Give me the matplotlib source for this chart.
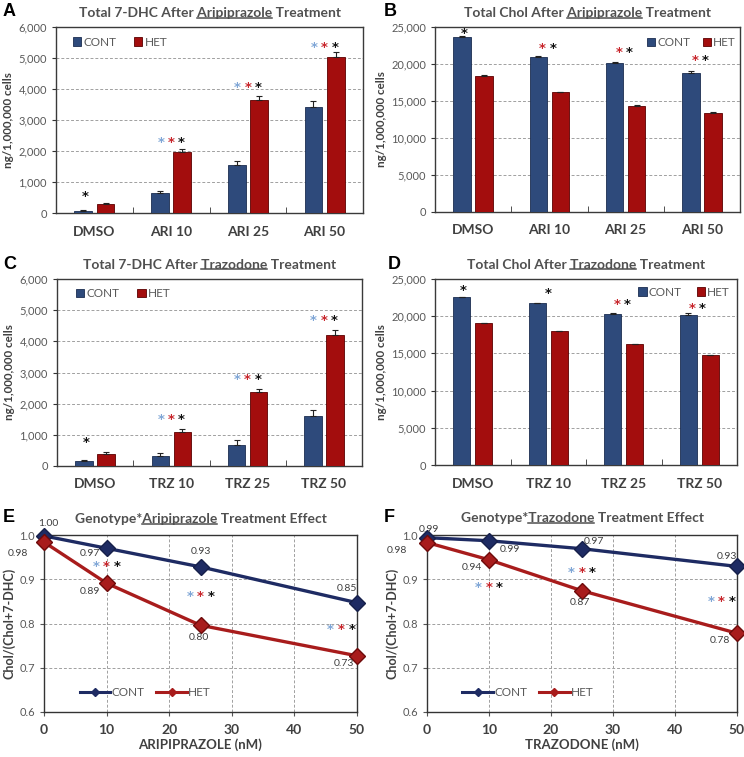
import matplotlib
matplotlib.use("Agg")
import matplotlib.pyplot as plt
import numpy as np
from matplotlib.lines import Line2D

# ---- data ----
groups_ari = ["DMSO", "ARI 10", "ARI 25", "ARI 50"]
groups_trz = ["DMSO", "TRZ 10", "TRZ 25", "TRZ 50"]

dhc_ari_cont = [75, 640, 1550, 3410]
dhc_ari_cont_err = [15, 60, 140, 210]
dhc_ari_het = [275, 1960, 3660, 5030]
dhc_ari_het_err = [50, 100, 110, 150]

chol_ari_cont = [23700, 21000, 20180, 18830]
chol_ari_cont_err = [150, 80, 100, 200]
chol_ari_het = [18380, 16170, 14370, 13420]
chol_ari_het_err = [100, 80, 80, 100]

dhc_trz_cont = [170, 330, 680, 1590]
dhc_trz_cont_err = [20, 90, 160, 200]
dhc_trz_het = [390, 1075, 2380, 4200]
dhc_trz_het_err = [60, 100, 100, 170]

chol_trz_cont = [22520, 21710, 20320, 20140]
chol_trz_cont_err = [80, 80, 80, 250]
chol_trz_het = [19050, 17970, 16220, 14770]
chol_trz_het_err = [60, 80, 80, 80]

# significance stars: colour codes per group and height
stars_a = ["k", "brk", "brk", "brk"]
stars_a_y = [600, 2340, 4120, 5390]
stars_b = ["k", "rk", "rk", "rk"]
stars_b_y = [24400, 22300, 21800, 20700]
stars_c = ["k", "brk", "brk", "brk"]
stars_c_y = [820, 1560, 2840, 4730]
stars_d = ["k", "k", "rk", "rk"]
stars_d_y = [23780, 23290, 21850, 21260]

dose = [0, 10, 25, 50]
ratio_ari_cont = [0.998, 0.970, 0.928, 0.847]
ratio_ari_het = [0.984, 0.891, 0.796, 0.727]
ratio_trz_cont = [0.994, 0.987, 0.969, 0.929]
ratio_trz_het = [0.983, 0.944, 0.874, 0.778]

star_dose = [10, 25, 47.5]
stars_e_y = [0.934, 0.865, 0.791]
stars_f_y = [0.886, 0.920, 0.855]

# ---- style ----
W, H = 744, 757
C_BAR = "#2E4A7B"
H_BAR = "#A30D0D"
C_LINE = "#1E2B63"
H_LINE = "#A81C1C"
STAR = {"b": "#7FA6D6", "r": "#C8262C", "k": "#111111"}
GRAY = "#595959"
FONT = "Lato"

fig = plt.figure(figsize=(W / 100, H / 100), dpi=100)
renderer = fig.canvas.get_renderer()


def px_axes(left, top, right, bottom):
    return fig.add_axes([left / W, 1 - bottom / H, (right - left) / W, (bottom - top) / H])


def title(ax, pre, mid, post, y_px):
    kw = dict(fontsize=10, fontweight="bold", color="#505050", family=FONT)

    def width(s):
        t = fig.text(0, 0, s, **kw)
        w = t.get_window_extent(renderer).width
        t.remove()
        return w

    full = width(pre + mid + post)
    pm = width(pre + mid)
    m = width(mid)
    box = ax.get_position()
    cx = (box.x0 + box.x1) / 2 * W
    x0 = cx - full / 2
    t = fig.text(x0 / W, 1 - y_px / H, pre + mid + post, ha="left", va="center", **kw)
    bb = t.get_window_extent(renderer)
    uy = (bb.y0 + 1.5) / H
    fig.add_artist(Line2D([(x0 + pm - m) / W, (x0 + pm) / W], [uy, uy],
                          transform=fig.transFigure, color="#505050", lw=1.1))


def letter(s, x_px, y_px):
    fig.text(x_px / W, 1 - y_px / H, s, fontsize=13, fontweight="bold",
             family="Liberation Sans", ha="left", va="center")


def star(ax, x, y, c):
    ax.annotate("*", (x, y), xytext=(0, -2), textcoords="offset pixels",
                color=STAR[c], fontsize=9.5, fontweight="bold",
                ha="center", va="center", family="DejaVu Sans", annotation_clip=False)


def bar_panel(ax, groups, cont, cont_err, het, het_err, ymax, ystep,
              sets, sets_y, leg_loc, leg_anchor, leg_space):
    x = np.arange(len(groups))
    w = 0.23
    ax.bar(x - 0.145, cont, w, color=C_BAR, edgecolor="#1B2D50", lw=0.6,
           yerr=[np.zeros(len(cont)), cont_err], capsize=2,
           error_kw=dict(lw=0.8, capthick=0.8, ecolor="#222222"), label="CONT", zorder=3)
    ax.bar(x + 0.145, het, w, color=H_BAR, edgecolor="#5A0000", lw=0.6,
           yerr=[np.zeros(len(het)), het_err], capsize=2,
           error_kw=dict(lw=0.8, capthick=0.8, ecolor="#222222"), label="HET", zorder=3)
    ax.set_xlim(-0.5, len(groups) - 0.5)
    ax.set_ylim(0, ymax)
    ax.set_yticks(np.arange(0, ymax + 1, ystep))
    ax.set_yticklabels([f"{v:,}" for v in np.arange(0, ymax + 1, ystep)])
    ax.set_xticks(x)
    ax.set_xticklabels(groups, fontweight="bold", fontsize=10, color="#404040", family=FONT)
    ax.set_xticks(np.arange(0.5, len(groups) - 1, 1), minor=True)
    ax.tick_params(axis="x", which="major", length=0, pad=9)
    ax.tick_params(axis="x", which="minor", length=4, direction="in", color="#333333")
    ax.tick_params(axis="y", length=3, color="#333333", labelsize=8, labelcolor=GRAY)
    for lab in ax.get_yticklabels():
        lab.set_family(FONT)
    ax.yaxis.grid(True, ls=(0, (3, 2)), color="#A0A0A0", lw=0.7)
    ax.set_axisbelow(True)
    for sp in ax.spines.values():
        sp.set_color("#3A3A3A")
        sp.set_linewidth(1.0)
    ax.set_ylabel("ng/1,000,000 cells", fontsize=8.4, fontweight="bold",
                  color="#404040", family=FONT, labelpad=3)
    for i, (s, yv) in enumerate(zip(sets, sets_y)):
        if len(s) == 3:
            offs = [-0.135, 0.0, 0.135]
        elif len(s) == 2:
            offs = [-0.09, 0.045]
        elif i == 0:
            offs = [-0.12]
        else:
            offs = [0.0]
        for c, o in zip(s, offs):
            star(ax, x[i] + o, yv, c)
    ax.legend(loc=leg_loc, bbox_to_anchor=leg_anchor, ncol=2, frameon=False,
              handlelength=0.7, handleheight=0.7, handletextpad=0.2,
              borderpad=0, borderaxespad=0, columnspacing=leg_space,
              labelcolor=GRAY, prop=dict(family=FONT, size=8.5))


def line_panel(ax, cont, het, sy, xlabel, label_offs_c, label_offs_h):
    ax.plot(dose, cont, color=C_LINE, lw=2.4, marker="D", ms=8,
            mec="#16204A", clip_on=False, zorder=4)
    ax.plot(dose, het, color=H_LINE, lw=2.4, marker="D", ms=8,
            mec="#6E0B0B", clip_on=False, zorder=4)
    ax.set_xlim(0, 50)
    ax.set_ylim(0.6, 1.0)
    ax.set_xticks(np.arange(0, 51, 10))
    ax.set_yticks(np.arange(0.6, 1.01, 0.1))
    ax.set_yticklabels([f"{v:.1f}" for v in np.arange(0.6, 1.01, 0.1)])
    ax.tick_params(axis="y", length=3, labelsize=8, labelcolor=GRAY, color="#555555")
    ax.tick_params(axis="x", length=3, labelsize=10, labelcolor="#404040",
                   color="#555555", pad=6)
    for lab in ax.get_xticklabels():
        lab.set_fontweight("bold")
        lab.set_family(FONT)
    for lab in ax.get_yticklabels():
        lab.set_family(FONT)
    ax.grid(True, ls=(0, (3, 2)), color="#A0A0A0", lw=0.7)
    ax.set_axisbelow(True)
    for sp in ax.spines.values():
        sp.set_color("#333333")
        sp.set_linewidth(1.0)
    ax.set_ylabel("Chol/(Chol+7-DHC)", fontsize=9, fontweight="bold",
                  color="#404040", family=FONT, labelpad=3)
    ax.set_xlabel(xlabel, fontsize=9.5, fontweight="bold", color="#404040",
                  family=FONT, labelpad=1)
    for xv, yv in zip(star_dose, sy):
        for c, o in zip("brk", [-1.7, 0, 1.7]):
            star(ax, xv + o, yv, c)
    for vals, offs in ((cont, label_offs_c), (het, label_offs_h)):
        for xv, yv, off in zip(dose, vals, offs):
            ax.annotate(f"{yv:.2f}", (xv, yv), xytext=off, textcoords="offset pixels",
                        ha="center", va="center", fontsize=7.5, color="#404040",
                        family=FONT, annotation_clip=False, zorder=5)
    handles = [Line2D([], [], color=C_LINE, lw=2.2, marker="D", ms=4),
               Line2D([], [], color=H_LINE, lw=2.2, marker="D", ms=4)]
    ax.legend(handles, ["CONT", "HET"], loc="center left", bbox_to_anchor=(0.08, 0.11),
              ncol=2, frameon=False, handlelength=2.6, handletextpad=0.1,
              columnspacing=1.0, labelcolor=GRAY, prop=dict(family=FONT, size=8.5))


ax_a = px_axes(56, 27, 363, 213)
ax_b = px_axes(435, 27, 740, 212)
ax_c = px_axes(57, 279, 362, 466)
ax_d = px_axes(435, 279, 737, 465)
ax_e = px_axes(44, 535, 357, 712)
ax_f = px_axes(427, 535, 737, 712)

bar_panel(ax_a, groups_ari, dhc_ari_cont, dhc_ari_cont_err, dhc_ari_het, dhc_ari_het_err,
          6000, 1000, stars_a, stars_a_y, "center left", (0.055, 0.919), 1.5)
bar_panel(ax_b, groups_ari, chol_ari_cont, chol_ari_cont_err, chol_ari_het, chol_ari_het_err,
          25000, 5000, stars_b, stars_b_y, "center right", (0.987, 0.914), 1.0)
bar_panel(ax_c, groups_trz, dhc_trz_cont, dhc_trz_cont_err, dhc_trz_het, dhc_trz_het_err,
          6000, 1000, stars_c, stars_c_y, "center left", (0.062, 0.92), 1.5)
bar_panel(ax_d, groups_trz, chol_trz_cont, chol_trz_cont_err, chol_trz_het, chol_trz_het_err,
          25000, 5000, stars_d, stars_d_y, "center right", (0.977, 0.93), 1.25)

line_panel(ax_e, ratio_ari_cont, ratio_ari_het, stars_e_y, "ARIPIPRAZOLE (nM)",
           [(4, 12), (-17, -5), (0, 15), (-10, 14)],
           [(-26, -11), (-17, -8), (-2, -12), (-13, -8)])
line_panel(ax_f, ratio_trz_cont, ratio_trz_het, stars_f_y, "TRAZODONE (nM)",
           [(2, 8), (21, -9), (12, 7), (-10, 10)],
           [(-30, -8), (-17, -8), (-2, -12), (-17, -7)])

title(ax_a, "Total 7-DHC After ", "Aripiprazole", " Treatment", 13)
title(ax_b, "Total Chol After ", "Aripiprazole", " Treatment", 13)
title(ax_c, "Total 7-DHC After ", "Trazodone", " Treatment", 265)
title(ax_d, "Total Chol After ", "Trazodone", " Treatment", 265)
title(ax_e, "Genotype*", "Aripiprazole", " Treatment Effect", 519)
title(ax_f, "Genotype*", "Trazodone", " Treatment Effect", 518)

letter("A", 3, 12)
letter("B", 384, 12)
letter("C", 3, 265)
letter("D", 388, 265)
letter("E", 3, 517)
letter("F", 384, 517)

fig.savefig("out.png", dpi=100)
